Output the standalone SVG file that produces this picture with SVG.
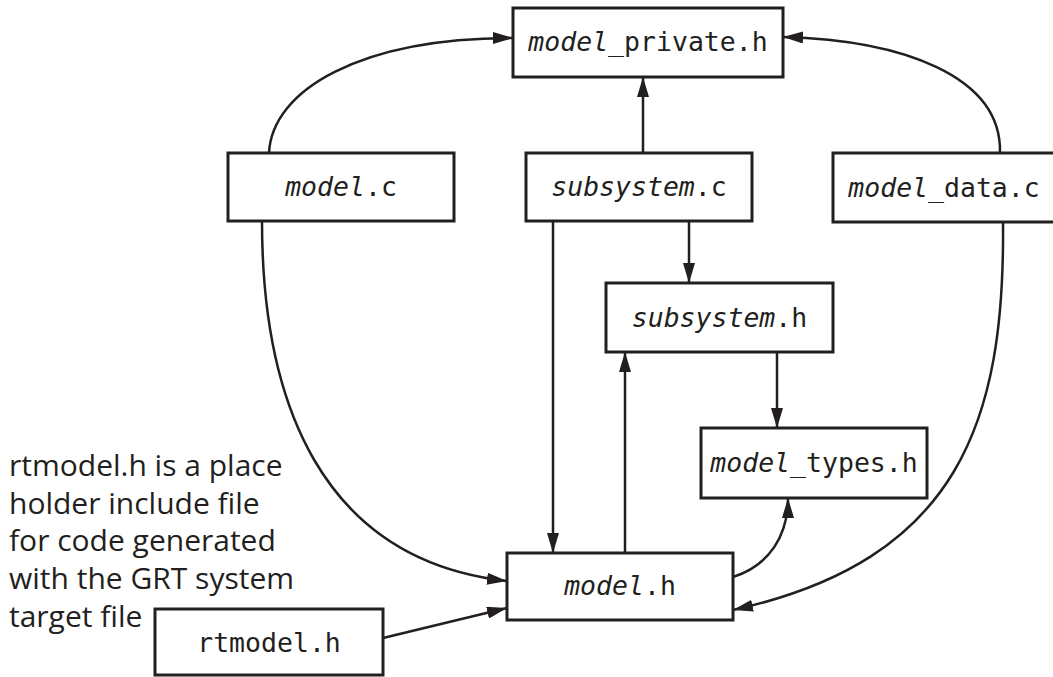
<svg xmlns="http://www.w3.org/2000/svg" width="1053" height="677" viewBox="0 0 1053 677">
<style>
.box{fill:#fff;stroke:#231f20;stroke-width:3}
.lbl{font-family:"DejaVu Sans Mono","Liberation Mono",monospace;font-size:26.5px;fill:#231f20;text-anchor:middle}
.it{font-style:italic}
.conn{fill:none;stroke:#231f20;stroke-width:2.5;marker-end:url(#ah)}
.note{font-family:"Open Sans","Liberation Sans",Arial,sans-serif;font-size:30px;fill:#231f20}
</style>
<defs>
<marker id="ah" viewBox="0 0 20 12" refX="20" refY="6" markerWidth="20" markerHeight="12" markerUnits="userSpaceOnUse" orient="auto">
<path d="M0,0 L20,6 L0,12 z" fill="#231f20"/>
</marker>
</defs>
<rect width="1053" height="677" fill="#fff"/>
<g id="connectors">
<path class="conn" d="M269,153 C272,90 360,38 513,38"/>
<path class="conn" d="M643,153 L643,77"/>
<path class="conn" d="M1000,153 C1002,75 900,40 783,37"/>
<path class="conn" d="M262,221 C262,400 320,560 507,581"/>
<path class="conn" d="M553,221 L553,553"/>
<path class="conn" d="M689,221 L689,283"/>
<path class="conn" d="M625,553 L625,352"/>
<path class="conn" d="M777,352 L777,428"/>
<path class="conn" d="M733,577 C770,565 788,535 788,498"/>
<path class="conn" d="M1003,222 C1005,420 960,560 733,610"/>
<path class="conn" d="M383,638 L507,608"/>
</g>
<g id="model_private_h">
<rect class="box" x="513" y="8" width="270" height="69"/>
<text class="lbl" x="648" y="51"><tspan class="it">model</tspan>_private.h</text>
</g>
<g id="model_c">
<rect class="box" x="228" y="153" width="226" height="68"/>
<text class="lbl" x="341" y="196"><tspan class="it">model</tspan>.c</text>
</g>
<g id="subsystem_c">
<rect class="box" x="526" y="153" width="226" height="68"/>
<text class="lbl" x="639" y="196"><tspan class="it">subsystem</tspan>.c</text>
</g>
<g id="model_data_c">
<rect class="box" x="833" y="153" width="222" height="69"/>
<text class="lbl" x="944" y="197"><tspan class="it">model</tspan>_data.c</text>
</g>
<g id="subsystem_h">
<rect class="box" x="606" y="283" width="227" height="69"/>
<text class="lbl" x="719.5" y="327"><tspan class="it">subsystem</tspan>.h</text>
</g>
<g id="model_types_h">
<rect class="box" x="701" y="428" width="226" height="70"/>
<text class="lbl" x="814" y="472"><tspan class="it">model</tspan>_types.h</text>
</g>
<g id="model_h">
<rect class="box" x="507" y="553" width="226" height="67"/>
<text class="lbl" x="620" y="595"><tspan class="it">model</tspan>.h</text>
</g>
<g id="rtmodel_h">
<rect class="box" x="155" y="609" width="228" height="66"/>
<text class="lbl" x="269" y="652">rtmodel.h</text>
</g>
<g id="note">
<text class="note" x="9" y="476">rtmodel.h is a place</text>
<text class="note" x="9" y="514">holder include file</text>
<text class="note" x="9" y="551">for code generated</text>
<text class="note" x="9" y="589">with the GRT system</text>
<text class="note" x="9" y="627">target file</text>
</g>
</svg>
